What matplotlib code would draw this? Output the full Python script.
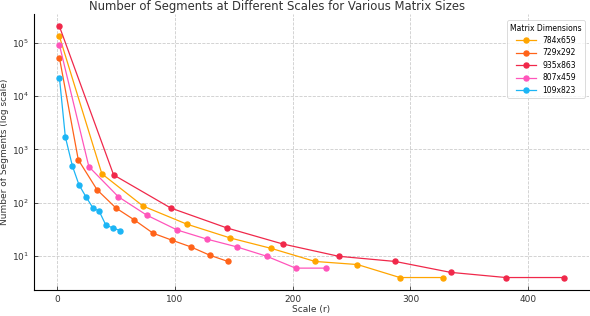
import numpy as np
import matplotlib
matplotlib.use("Agg")
import matplotlib.pyplot as plt

# data
labels = ["784x659", "729x292", "935x863", "807x459", "109x823"]
colors = ["#FFA500", "#FF6319", "#F0284A", "#FF55BB", "#1CB5F5"]

scale_784 = [2, 38, 73, 110, 147, 182, 219, 255, 291, 328]
segs_784 = [130000, 350, 87, 40, 22, 14, 8, 7, 4, 4]

scale_729 = [2, 18, 34, 50, 65.5, 81.5, 97.5, 113.5, 129.5, 145]
segs_729 = [52000, 640, 175, 80, 48, 27, 20, 15, 10.5, 8]

scale_935 = [2, 48, 96.5, 144, 191.5, 239, 287, 334, 381, 430]
segs_935 = [200000, 333, 80, 34, 17, 10, 8, 5, 4, 4]

scale_807 = [2, 27, 52, 76, 102, 127, 152.5, 178, 202.5, 228]
segs_807 = [90000, 475, 130, 59, 31, 21, 15, 10, 6, 6]

scale_109 = [2, 7, 13, 18.6, 24.5, 30.5, 35.7, 41.5, 47.5, 53.7]
segs_109 = [22000, 1720, 490, 217, 130, 80, 70, 38, 34, 30]

scales = [scale_784, scale_729, scale_935, scale_807, scale_109]
segments = [segs_784, segs_729, segs_935, segs_807, segs_109]

fig = plt.figure(figsize=(5.9, 3.16), dpi=100)
ax = fig.add_axes([0.058, 0.082, 0.94, 0.874])

for r, n, lab, c in zip(scales, segments, labels, colors):
    ax.plot(r, n, marker='o', markersize=3.6, linewidth=0.9, color=c, label=lab)

ax.set_yscale('log')
ax.set_title("Number of Segments at Different Scales for Various Matrix Sizes",
             fontsize=8.4, color='#333333', pad=3, x=0.437)
ax.set_xlabel("Scale (r)", fontsize=6.5, color='#333333', labelpad=1)
ax.set_ylabel("Number of Segments (log scale)", fontsize=6.5, color='#333333', labelpad=2)
ax.set_xticks([0, 100, 200, 300, 400])
ax.tick_params(direction='in', labelsize=6.5, colors='#333333', length=3, width=0.6)
ax.tick_params(which='minor', length=0)
ax.grid(True, which='major', linestyle='--', color='#cccccc', linewidth=0.6)
for s in ['top', 'right']:
    ax.spines[s].set_visible(False)
for s in ['left', 'bottom']:
    ax.spines[s].set_linewidth(0.8)

leg = ax.legend(title="Matrix Dimensions", loc='upper right', fontsize=5.5,
                title_fontsize=5.5, frameon=True, borderpad=0.4, labelspacing=0.45,
                handlelength=2.6, bbox_to_anchor=(1.0, 0.99))
leg.get_frame().set_linewidth(0.6)

fig.savefig("out.png", dpi=100)
